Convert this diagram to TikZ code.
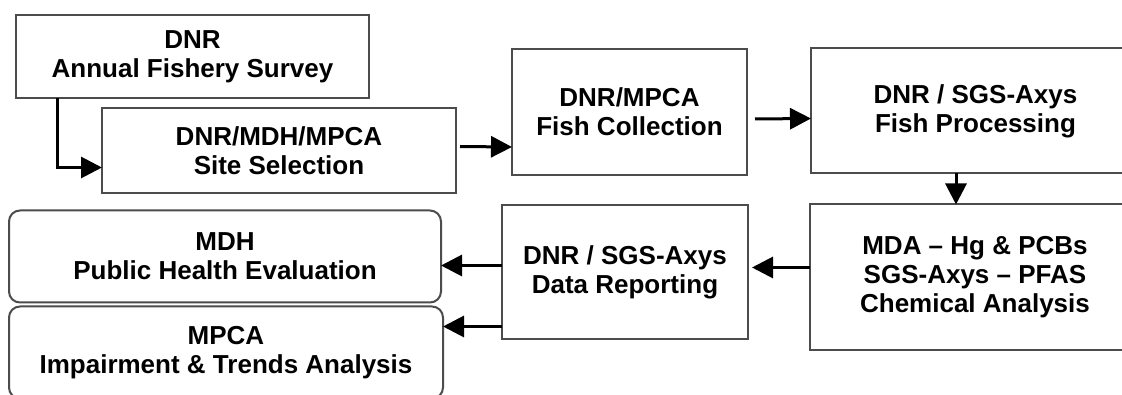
\documentclass[tikz,border=0pt]{standalone}
\usepackage{fontspec}
\setmainfont{Liberation Sans}
\usetikzlibrary{arrows.meta}

\begin{document}
\begin{tikzpicture}[x=1pt,y=-1pt,
    stage/.style={draw=black!70, line width=2pt, fill=white, inner sep=0pt, outer sep=0pt,
      align=center, font=\fontsize{26}{29}\selectfont\bfseries},
    office/.style={stage, rounded corners=11pt},
    flow/.style={line width=3pt, -{Triangle[length=21pt,width=21pt]}}]
    \clip (0,0) rectangle (1122,395);
    \fill [white] (0,0) rectangle (1122,395);
    \node [stage, minimum width=353pt, minimum height=83pt] (survey) at (192.5,57) {DNR\\Annual Fishery Survey};
    \node [stage, minimum width=354pt, minimum height=85pt] (site) at (279,151) {DNR/MDH/MPCA\\Site Selection};
    \node [stage, minimum width=235pt, minimum height=126pt] (collect) at (629.5,112) {DNR/MPCA\\Fish Collection};
    \node [stage, minimum width=329pt, minimum height=125pt] (process) at (975.5,111) {DNR / SGS-Axys\\Fish Processing};
    \node [stage, minimum width=330pt, minimum height=146pt] (chem) at (975,277.5) {MDA -- Hg \& PCBs\\SGS-Axys -- PFAS\\Chemical Analysis};
    \node [stage, minimum width=246pt, minimum height=134pt] (report) at (625,272.5) {DNR / SGS-Axys\\Data Reporting};
    \node [office, minimum width=432pt, minimum height=92pt] (health) at (225,256.5) {MDH\\Public Health Evaluation};
    \node [office, minimum width=434pt, minimum height=92pt] (trend) at (226,352.5) {MPCA\\Impairment \& Trends Analysis};
    % connectors
    \draw [flow] ([xshift=41pt]survey.south west) |- ([yshift=26pt]site.south west);
    \draw [flow] ([shift={(4pt,4.5pt)}]site.east) -- ([yshift=-35pt]collect.west);
    \draw [flow] ([shift={(8pt,-7pt)}]collect.east) -- ([yshift=-7.5pt]process.west);
    \draw [flow] ([xshift=145pt]process.south west) -- ([xshift=146pt]chem.north west);
    \draw [flow] ([yshift=10pt]chem.west) -- ([shift={(4pt,5pt)}]report.east);
    \draw [flow] ([yshift=7pt]report.west) -- ([yshift=-9pt]health.east);
    \draw [flow] ([yshift=-54pt]report.west) -- ([yshift=26pt]trend.east);
\end{tikzpicture}
\end{document}
